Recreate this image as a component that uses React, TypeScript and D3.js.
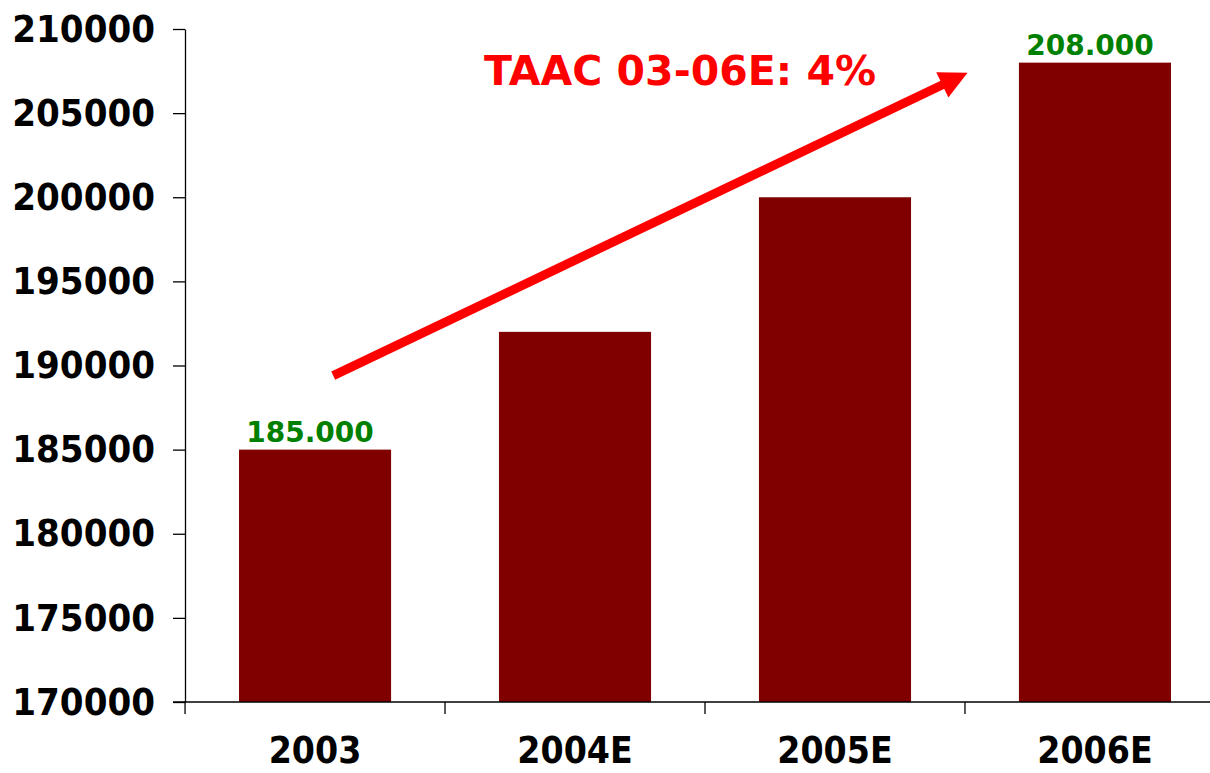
import React, { useEffect, useRef } from 'react';
import * as d3 from 'd3';

const categories = ['2003', '2004E', '2005E', '2006E'];
const values = [185000, 192000, 200000, 208000];
const yTicks = [170000, 175000, 180000, 185000, 190000, 195000, 200000, 205000, 210000];
// only the first and last bars carry a value label
const valueLabels = ['185.000', '', '', '208.000'];
const annotationText = 'TAAC 03-06E: 4%';
// arrow endpoints: position in category steps from the first bar centre, and value
const arrowFrom = { pos: 0.07, value: 189400 };
const arrowTo = { pos: 2.51, value: 207400 };

const FONT = "'DejaVu Sans Condensed', 'DejaVu Sans', sans-serif";
const FONT_WIDE = "'DejaVu Sans', sans-serif";

const App: React.FC = () => {
  const svgRef = useRef<SVGSVGElement>(null);
  const width = 1210;
  const height = 773;
  const margin = { top: 29, right: -15, bottom: 71, left: 185 };

  useEffect(() => {
    if (!svgRef.current) return;
    const svg = d3.select(svgRef.current);
    svg.selectAll('*').remove();

    const x = d3.scaleBand<string>()
      .domain(categories)
      .range([margin.left, width - margin.right])
      .paddingInner(0.415)
      .paddingOuter(0.2077);

    const y = d3.scaleLinear()
      .domain([170000, 210000])
      .range([height - margin.bottom, margin.top]);

    // bars
    svg.append('g')
      .selectAll('rect')
      .data(values)
      .join('rect')
      .attr('x', (_, i) => x(categories[i]) as number)
      .attr('y', d => y(d))
      .attr('width', x.bandwidth())
      .attr('height', d => y(170000) - y(d))
      .attr('fill', '#800000');

    // y axis
    const yAxis = svg.append('g')
      .attr('transform', `translate(${margin.left},0)`)
      .call(d3.axisLeft(y).tickValues(yTicks).tickFormat(d3.format('d')).tickSize(12).tickSizeOuter(0).tickPadding(18));
    yAxis.selectAll('path, line').attr('stroke', '#000').attr('stroke-width', 1.3);
    yAxis.selectAll('text')
      .attr('font-family', FONT)
      .attr('font-stretch', 'condensed')
      .attr('font-weight', 'bold')
      .attr('font-size', 38)
      .attr('fill', '#000');

    // x axis with ticks on band boundaries
    const step = x.step();
    const boundaries = categories.map(c => (x(c) as number) - (step - x.bandwidth()) / 2);
    boundaries.push(boundaries[boundaries.length - 1] + step);
    const xg = svg.append('g').attr('transform', `translate(0,${y(170000)})`);
    xg.append('line')
      .attr('x1', margin.left - 12)
      .attr('x2', width + 20)
      .attr('stroke', '#000')
      .attr('stroke-width', 1.3);
    xg.selectAll('line.tick')
      .data(boundaries)
      .join('line')
      .attr('class', 'tick')
      .attr('x1', d => d)
      .attr('x2', d => d)
      .attr('y1', 0)
      .attr('y2', 12)
      .attr('stroke', '#000')
      .attr('stroke-width', 1.3);
    xg.selectAll('text')
      .data(categories)
      .join('text')
      .attr('x', d => (x(d) as number) + x.bandwidth() / 2)
      .attr('y', 61)
      .attr('text-anchor', 'middle')
      .attr('font-family', FONT)
      .attr('font-stretch', 'condensed')
      .attr('font-weight', 'bold')
      .attr('font-size', 37)
      .attr('fill', '#000')
      .text(d => d);

    // value labels
    svg.append('g')
      .selectAll('text')
      .data(values)
      .join('text')
      .attr('x', (_, i) => (x(categories[i]) as number) + x.bandwidth() / 2 - 5)
      .attr('y', d => y(d) - 8)
      .attr('text-anchor', 'middle')
      .attr('font-family', FONT_WIDE)
      .attr('font-weight', 'bold')
      .attr('font-size', 28)
      .attr('fill', '#008000')
      .text((_, i) => valueLabels[i]);

    // growth arrow
    const c0 = (x(categories[0]) as number) + x.bandwidth() / 2;
    const x1 = c0 + arrowFrom.pos * step;
    const y1 = y(arrowFrom.value);
    const x2 = c0 + arrowTo.pos * step;
    const y2 = y(arrowTo.value);
    const len = Math.hypot(x2 - x1, y2 - y1);
    const ux = (x2 - x1) / len;
    const uy = (y2 - y1) / len;
    const headLen = 28;
    const headHalf = 14;
    const bx = x2 - ux * headLen;
    const by = y2 - uy * headLen;
    svg.append('line')
      .attr('x1', x1)
      .attr('y1', y1)
      .attr('x2', bx + ux * 2)
      .attr('y2', by + uy * 2)
      .attr('stroke', '#ff0000')
      .attr('stroke-width', 9);
    svg.append('polygon')
      .attr('points', [
        [x2, y2],
        [bx - uy * headHalf, by + ux * headHalf],
        [bx + uy * headHalf, by - ux * headHalf],
      ].map(p => p.join(',')).join(' '))
      .attr('fill', '#ff0000');

    svg.append('text')
      .attr('x', 680)
      .attr('y', 85)
      .attr('text-anchor', 'middle')
      .attr('font-family', FONT_WIDE)
      .attr('font-weight', 'bold')
      .attr('font-size', 41)
      .attr('fill', '#ff0000')
      .text(annotationText);
  }, []);

  return (
    <svg
      ref={svgRef}
      width={width}
      height={height}
      style={{ position: 'absolute', left: 0, top: 0, background: '#fff' }}
    />
  );
};

export default App;
